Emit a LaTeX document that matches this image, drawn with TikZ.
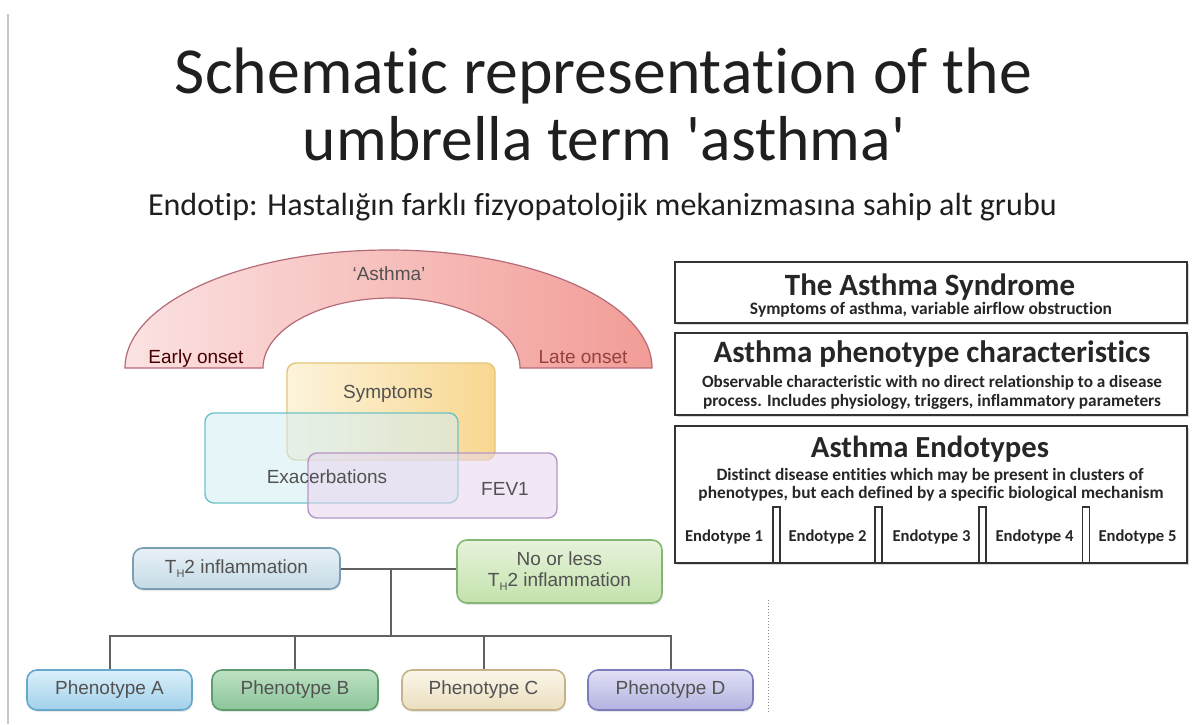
\documentclass[tikz,border=0pt]{standalone}
\usepackage{fontspec}
\usepackage{graphicx}
\setmainfont{Carlito}[Ligatures={NoCommon}]
\newfontfamily\lsans{Liberation Sans}
\usetikzlibrary{shadows}
\definecolor{pinkL}{HTML}{FBE2E2}
\definecolor{pinkR}{HTML}{F29C96}
\definecolor{arcB}{HTML}{B56A78}
\definecolor{symA}{HTML}{FDF3D8}
\definecolor{symC}{HTML}{F8D384}
\definecolor{symB}{HTML}{E4C67A}
\definecolor{exaF}{HTML}{D2EEF2}
\definecolor{exaB}{HTML}{6EC2C8}
\definecolor{fevF}{HTML}{E8D6EE}
\definecolor{fevB}{HTML}{B596C6}
\definecolor{thT}{HTML}{E8F1F6}
\definecolor{thBo}{HTML}{C4DAE6}
\definecolor{thB}{HTML}{7A9EB4}
\definecolor{noT}{HTML}{E6F3DA}
\definecolor{noBo}{HTML}{C4E2AC}
\definecolor{noB}{HTML}{86B676}
\definecolor{aT}{HTML}{DAF0FA}
\definecolor{aBo}{HTML}{A2D0EA}
\definecolor{aB}{HTML}{66A8CC}
\definecolor{bT}{HTML}{BDE1C4}
\definecolor{bBo}{HTML}{8CC59A}
\definecolor{bB}{HTML}{5E9C6C}
\definecolor{cT}{HTML}{FBF6EA}
\definecolor{cBo}{HTML}{EBDEBE}
\definecolor{cB}{HTML}{C6B28A}
\definecolor{dT}{HTML}{E0E0F6}
\definecolor{dBo}{HTML}{B2B2E0}
\definecolor{dB}{HTML}{7C7CBC}
\newcommand\fitw[2]{\resizebox{#1pt}{!}{#2}}
\newcommand\thtwo{T\raisebox{-.4ex}{\fontsize{11}{11}\selectfont H}2}
\begin{document}
\begin{tikzpicture}[x=1pt,y=-1pt,
  ttl/.style={anchor=base, inner sep=0pt, text=black!88},
  rtext/.style={anchor=base, inner sep=0pt, text=black!85},
  rbox/.style={draw=black!80, line width=2.2pt, fill=white, inner sep=0pt,
    drop shadow={shadow xshift=2pt, shadow yshift=-2pt, opacity=.35, fill=black!45}},
  pillar/.style={draw=black!80, line width=1.5pt, fill=white, inner sep=0pt,
    minimum width=7, minimum height=56},
  lt/.style={anchor=base, inner sep=0pt, font=\lsans\fontsize{19}{21}\selectfont, text=black!68},
  ovbox/.style={rounded corners=9pt, line width=1.4pt, inner sep=0pt},
  tbox/.style={rounded corners=10pt, line width=1.6pt, inner sep=0pt, align=center,
    font=\lsans\fontsize{19}{21}\selectfont, text=black!68,
    drop shadow={opacity=.18, shadow xshift=1pt, shadow yshift=-2pt}},
  conn/.style={draw=black!62, line width=2pt},
]
\useasboundingbox[fill=white] (0,0) rectangle (1200,724);
\coordinate (l1) at (8,14);
\coordinate (l2) at (8,724);
\draw[black!22, line width=2pt] (l1) -- (l2);

% titles
\node[ttl] (t1) at (603.5,93) {\fitw{857}{\fontsize{59}{59}\selectfont Schematic representation of the}};
\node[ttl] (t2) at (604,160) {\fitw{602}{\fontsize{59}{59}\selectfont umbrella term \textquotesingle asthma\textquotesingle}};
\node[ttl] (t3) at (602.5,215) {\fitw{909}{\fontsize{26}{26}\selectfont Endotip: Hastalığın farklı fizyopatolojik mekanizmasına sahip alt grubu}};

% arch
\draw[draw=arcB, line width=1.2pt, left color=pinkL, right color=pinkR]
  (125,368) arc[start angle=180, end angle=360, x radius=263.5, y radius=118]
  -- (520,368) arc[start angle=0, end angle=-180, x radius=128.5, y radius=70] -- cycle;
\node[lt] (ast) at (389,280) {‘Asthma’};
\node[lt, text=black!62!red!70!black] (eot) at (196,363) {Early onset};
\node[lt, text=red!45!black!75] (lot) at (583,363) {Late onset};

% overlapping boxes
\node[ovbox, draw=symB, left color=symA, right color=symC, fill opacity=.9,
  minimum width=208, minimum height=97] (symbox) at (391,411.5) {};
\node[ovbox, draw=exaB, fill=exaF, fill opacity=.55,
  minimum width=253, minimum height=90] (exabox) at (331.5,458) {};
\node[ovbox, draw=fevB, fill=fevF, fill opacity=.55,
  minimum width=249, minimum height=65] (fevbox) at (432.5,485.5) {};
\node[lt] (symt) at (388,398) {Symptoms};
\node[lt] (exat) at (327,483) {Exacerbations};
\node[lt] (fevt) at (505,495) {FEV1};

% tree
\node[tbox, draw=thB, top color=thT, bottom color=thBo, minimum width=207, minimum height=41]
  (th2) at (236.5,568.5) {\thtwo\ inflammation};
\node[tbox, draw=noB, top color=noT, bottom color=noBo, minimum width=205, minimum height=63]
  (nol) at (559.5,571.5) {No or less\\\thtwo\ inflammation};
\node[tbox, draw=aB, top color=aT, bottom color=aBo, minimum width=165, minimum height=40]
  (pa) at (109.5,690) {Phenotype A};
\node[tbox, draw=bB, top color=bT, bottom color=bBo, minimum width=166, minimum height=40]
  (pb) at (295,690) {Phenotype B};
\node[tbox, draw=cB, top color=cT, bottom color=cBo, minimum width=163, minimum height=40]
  (pc) at (483.5,690) {Phenotype C};
\node[tbox, draw=dB, top color=dT, bottom color=dBo, minimum width=165, minimum height=40]
  (pd) at (670.5,690) {Phenotype D};
\coordinate (jt) at (391,568.5);
\coordinate (jb) at (391,636);
\draw[conn] (th2.east) -- (th2.east -| nol.west);
\draw[conn] (jt) -- (jb);
\draw[conn] (pa.north) |- (jb) -| (pd.north);
\draw[conn] (pb.north) -- (pb.north |- jb);
\draw[conn] (pc.north) -- (pc.north |- jb);

\coordinate (d1) at (768,600);
\coordinate (d2) at (768,712);
\draw[black!45, line width=1pt, dotted] (d1) -- (d2);

% right boxes
\node[rbox, minimum width=512, minimum height=61] (b1) at (931,292.5) {};
\node[rbox, minimum width=512, minimum height=82] (b2) at (931,374) {};
\node[rbox, minimum width=512, minimum height=137] (b3) at (931,494.5) {};
\node[rtext] (b1t) at (930,295) {\fitw{290}{\bfseries The Asthma Syndrome}};
\node[rtext] (b1s) at (931,314) {\fitw{362}{\bfseries Symptoms of asthma, variable airflow obstruction}};
\node[rtext] (b2t) at (932,362) {\fitw{437}{\bfseries Asthma phenotype characteristics}};
\node[rtext] (b2s) at (932,387) {\fitw{460}{\bfseries Observable characteristic with no direct relationship to a disease}};
\node[rtext] (b2u) at (932,406) {\fitw{458}{\bfseries process. Includes physiology, triggers, inflammatory parameters}};
\node[rtext] (b3t) at (930,457) {\fitw{238}{\bfseries Asthma Endotypes}};
\node[rtext] (b3s) at (930,480) {\fitw{427}{\bfseries Distinct disease entities which may be present in clusters of}};
\node[rtext] (b3u) at (931,498) {\fitw{465}{\bfseries phenotypes, but each defined by a specific biological mechanism}};
\node[pillar] (s1) at (776.5,535) {};
\node[pillar] (s2) at (878.5,535) {};
\node[pillar] (s3) at (982.5,535) {};
\node[pillar] (s4) at (1086,535) {};
\node[rtext] (e1) at (724,541) {\fitw{78}{\bfseries Endotype 1}};
\node[rtext] (e2) at (827.5,541) {\fitw{78}{\bfseries Endotype 2}};
\node[rtext] (e3) at (931.5,541) {\fitw{78}{\bfseries Endotype 3}};
\node[rtext] (e4) at (1034.5,541) {\fitw{78}{\bfseries Endotype 4}};
\node[rtext] (e5) at (1137.5,541) {\fitw{78}{\bfseries Endotype 5}};
\end{tikzpicture}
\end{document}
